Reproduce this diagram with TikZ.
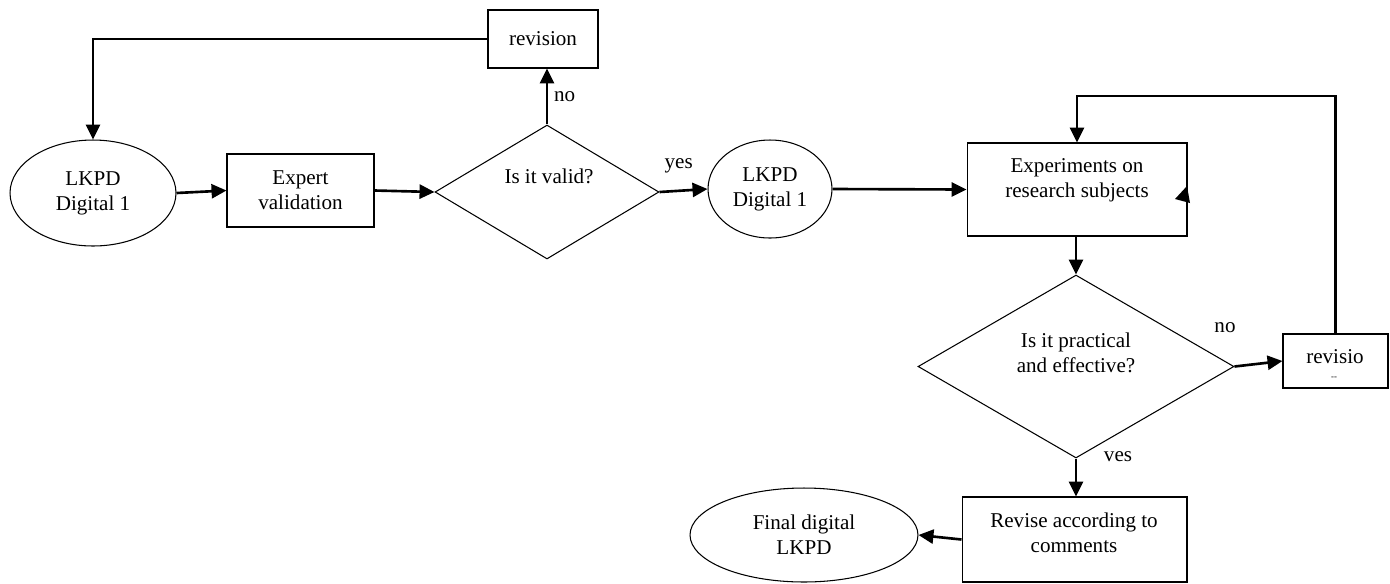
\documentclass[tikz,border=0pt]{standalone}
\usepackage{fontspec}
\setmainfont{Liberation Serif}
\usepackage{tikz}
\usetikzlibrary{positioning, shapes, arrows.meta}
\tikzset{
  flow/.style={-{Triangle[length=8.5pt,width=8pt]}, line width=1.5pt},
  box/.style={draw, line width=0.6pt, rectangle, inner sep=0pt, align=center},
  oval/.style={draw, line width=0.6pt, ellipse, inner sep=0pt, align=center},
  decision/.style={draw, line width=0.6pt, diamond, inner sep=0pt},
  txt/.style={inner sep=0pt, align=center}}

\begin{document}
\begin{tikzpicture}[x=0.02cm, y=-0.02cm, font=\fontsize{12}{14.2}\selectfont]
\useasboundingbox (0,0) rectangle (1390,583);
\node [oval, minimum width=3.32cm, minimum height=2.12cm] (lkpd1) at (93,193) {LKPD\\Digital 1};
\node [box, minimum width=2.94cm, minimum height=1.46cm] (expert) at (300.5,190.5) {Expert\\validation};
\node [decision, minimum width=4.48cm, minimum height=2.68cm] (valid) at (547,192) {};
\node [txt] (validtxt) at (549,176) {Is it valid?};
\node [box, minimum width=2.2cm, minimum height=1.16cm] (rev1) at (543,39) {revision};
\node [oval, minimum width=2.48cm, minimum height=1.96cm] (lkpd2) at (770,189) {LKPD\\Digital 1};
\node [box, minimum width=4.4cm, minimum height=1.86cm] (exper) at (1077,189.5) {};
\node [txt] (expertxt) at (1077,180) {Experiments on\\research subjects};
\node [decision, minimum width=6.32cm, minimum height=3.66cm] (pract) at (1076,366.5) {};
\node [txt] (practtxt) at (1076,353) {Is it practical\\and effective?};
\node [box, minimum width=2.1cm, minimum height=1.08cm] (rev2) at (1335.5,361) {};
\node [txt] (rev2txt) at (1335,357) {revisio};
\node [txt, font=\fontsize{5}{5}\selectfont] (rev2cut) at (1334,378) {-{}-};
\node [box, minimum width=4.5cm, minimum height=1.7cm] (revise) at (1074.5,539.5) {};
\node [txt] (revisetxt) at (1074,533) {Revise according to\\comments};
\node [oval, minimum width=4.56cm, minimum height=1.88cm] (final) at (804,535) {Final digital\\LKPD};
\coordinate (loop) at (1077,96);

\draw [flow] (lkpd1.east) -- (expert.west);
\draw [flow] (expert.east) -- (valid.west);
\draw [flow] (valid.north) -- (valid.north |- rev1.south) node [midway, right] {no};
\draw [flow] (rev1.west) -| (lkpd1.north);
\draw [flow] (valid.east) -- (lkpd2.west) node [pos=0.4, above=6pt] {yes};
\draw [flow] (lkpd2.east) -- (exper.west);
\draw [flow] (pract.north |- exper.south) -- (pract.north);
\draw [flow] (pract.east) -- (rev2.west);
\draw [flow] (rev2.north) |- (loop) -- (exper.north);
\draw [flow] (pract.south) -- (pract.south |- revise.north);
\draw [flow] (revise.west) -- (final.east);
\node (noa) at (1225,328) {no};
\node (vesa) at (1118,457) {ves};
\fill (1187,186) -- (1190,203) -- (1175,199) -- cycle;
\end{tikzpicture}
\end{document}
